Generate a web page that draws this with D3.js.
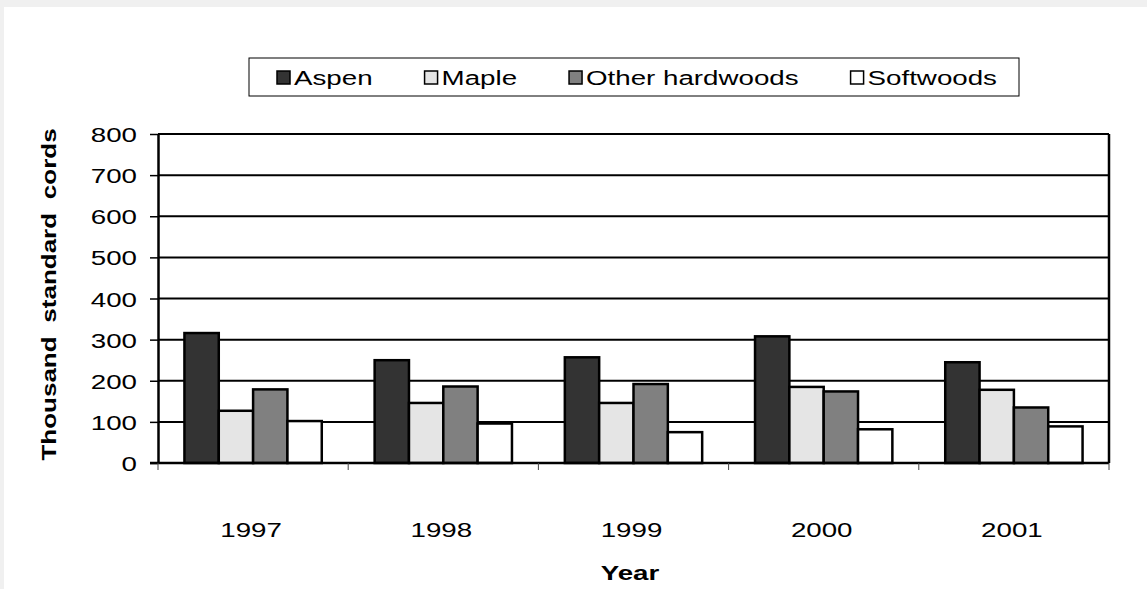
<!DOCTYPE html>
<html>
<head>
<meta charset="utf-8">
<script src="https://cdn.jsdelivr.net/npm/d3@7"></script>
<style>
  body { margin: 0; background: #f0f0f0; }
  svg { display: block; }
  text { font-family: "Liberation Sans", Arial, sans-serif; fill: #000; }
</style>
</head>
<body>
<script>
// data
const years = ["1997", "1998", "1999", "2000", "2001"];
const series = ["Aspen", "Maple", "Other hardwoods", "Softwoods"];
const aspen = [316, 250, 257, 308, 245];
const maple = [127, 146, 146, 185, 178];
const otherHardwoods = [179, 186, 192, 174, 135];
const softwoods = [102, 96, 75, 82, 89];
const yTicks = [0, 100, 200, 300, 400, 500, 600, 700, 800];

const values = { "Aspen": aspen, "Maple": maple, "Other hardwoods": otherHardwoods, "Softwoods": softwoods };
const rows = years.map((y, i) => {
  const r = { year: y };
  series.forEach((s) => (r[s] = values[s][i]));
  return r;
});

const width = 1147;
const height = 589;
const margin = { left: 158, right: 1109, top: 134, bottom: 463 };
const stretch = 1.32; // text in the original is drawn wide
const fontSize = "21px";

const colors = d3.scaleOrdinal()
  .domain(series)
  .range(["#333333", "#e5e5e5", "#808080", "#ffffff"]);

const svg = d3.select("body")
  .append("svg")
  .attr("width", width)
  .attr("height", height);

// light grey frame on top and left, white sheet
svg.append("rect").attr("width", width).attr("height", height).attr("fill", "#f0f0f0");
svg.append("rect").attr("x", 4).attr("y", 7).attr("width", width - 4).attr("height", height - 7).attr("fill", "#fff");

const x0 = d3.scaleBand()
  .domain(years)
  .range([margin.left, margin.right])
  .padding(0);

const x1 = d3.scaleBand()
  .domain(series)
  .range([0, x0.bandwidth()])
  .paddingInner(0)
  .paddingOuter(0.77);

const y = d3.scaleLinear()
  .domain([0, 800])
  .range([margin.bottom, margin.top]);

// gridlines
svg.append("g")
  .selectAll("line")
  .data(yTicks.filter((d) => d > 0))
  .join("line")
  .attr("x1", margin.left)
  .attr("x2", margin.right)
  .attr("y1", (d) => y(d))
  .attr("y2", (d) => y(d))
  .attr("stroke", "#000")
  .attr("stroke-width", 2);

// bars
svg.append("g")
  .selectAll("g")
  .data(rows)
  .join("g")
  .attr("transform", (d) => `translate(${x0(d.year)},0)`)
  .selectAll("rect")
  .data((d) => series.map((s) => ({ key: s, value: d[s] })))
  .join("rect")
  .attr("x", (d) => x1(d.key))
  .attr("y", (d) => y(d.value))
  .attr("width", x1.bandwidth())
  .attr("height", (d) => y(0) - y(d.value))
  .attr("fill", (d) => colors(d.key))
  .attr("stroke", "#000")
  .attr("stroke-width", 2.5);

// plot border
svg.append("line")
  .attr("x1", margin.right).attr("x2", margin.right)
  .attr("y1", margin.top).attr("y2", margin.bottom)
  .attr("stroke", "#000").attr("stroke-width", 2.5);

// y axis
const yAxis = svg.append("g")
  .attr("transform", `translate(${margin.left},0)`)
  .call(d3.axisLeft(y).tickValues(yTicks).tickSize(8).tickSizeOuter(0));
yAxis.select(".domain").attr("stroke", "#000").attr("stroke-width", 2.5);
yAxis.selectAll(".tick line").attr("stroke", "#000").attr("stroke-width", 1.5);
yAxis.selectAll(".tick text")
  .attr("x", null)
  .attr("dy", "0.36em")
  .attr("text-anchor", "end")
  .attr("transform", `translate(-21,0) scale(${stretch},1)`)
  .style("font-size", fontSize)
  .style("font-family", "Liberation Sans, Arial, sans-serif")
  .attr("fill", "#000");

// x axis: base line, ticks on band edges, year labels
svg.append("line")
  .attr("x1", margin.left - 8).attr("x2", margin.right)
  .attr("y1", margin.bottom).attr("y2", margin.bottom)
  .attr("stroke", "#000").attr("stroke-width", 2.5);

svg.append("g")
  .selectAll("line")
  .data(years.map((d) => x0(d)).concat([margin.right]))
  .join("line")
  .attr("x1", (d) => d).attr("x2", (d) => d)
  .attr("y1", margin.bottom).attr("y2", margin.bottom + 7)
  .attr("stroke", "#444").attr("stroke-width", 1);

svg.append("g")
  .selectAll("text")
  .data(years)
  .join("text")
  .attr("transform", (d) => `translate(${x0(d) + x0.bandwidth() / 2 - 2},537) scale(${stretch},1)`)
  .attr("text-anchor", "middle")
  .style("font-size", fontSize)
  .text((d) => d);

// axis titles
svg.append("text")
  .attr("transform", `translate(630,580) scale(${stretch},1)`)
  .attr("text-anchor", "middle")
  .style("font-size", fontSize)
  .style("font-weight", "bold")
  .text("Year");

svg.append("text")
  .attr("transform", `translate(56,${(margin.top + margin.bottom) / 2 - 4}) rotate(-90) scale(1.3,1)`)
  .attr("text-anchor", "middle")
  .style("font-size", "20px")
  .style("font-weight", "bold")
  .style("word-spacing", "5px")
  .text("Thousand standard cords");

// legend
const legend = svg.append("g");
legend.append("rect")
  .attr("x", 249).attr("y", 58)
  .attr("width", 770).attr("height", 38)
  .attr("fill", "#fff")
  .attr("stroke", "#000")
  .attr("stroke-width", 1);

let lx = 277;
series.forEach((s) => {
  legend.append("rect")
    .attr("x", lx).attr("y", 71)
    .attr("width", 13).attr("height", 13)
    .attr("fill", colors(s))
    .attr("stroke", "#000")
    .attr("stroke-width", 1.5);
  const t = legend.append("text")
    .attr("transform", `translate(${lx + 17},85) scale(${stretch},1)`)
    .style("font-size", fontSize)
    .text(s);
  lx += 17 + t.node().getComputedTextLength() * stretch + 52;
});
</script>
</body>
</html>
